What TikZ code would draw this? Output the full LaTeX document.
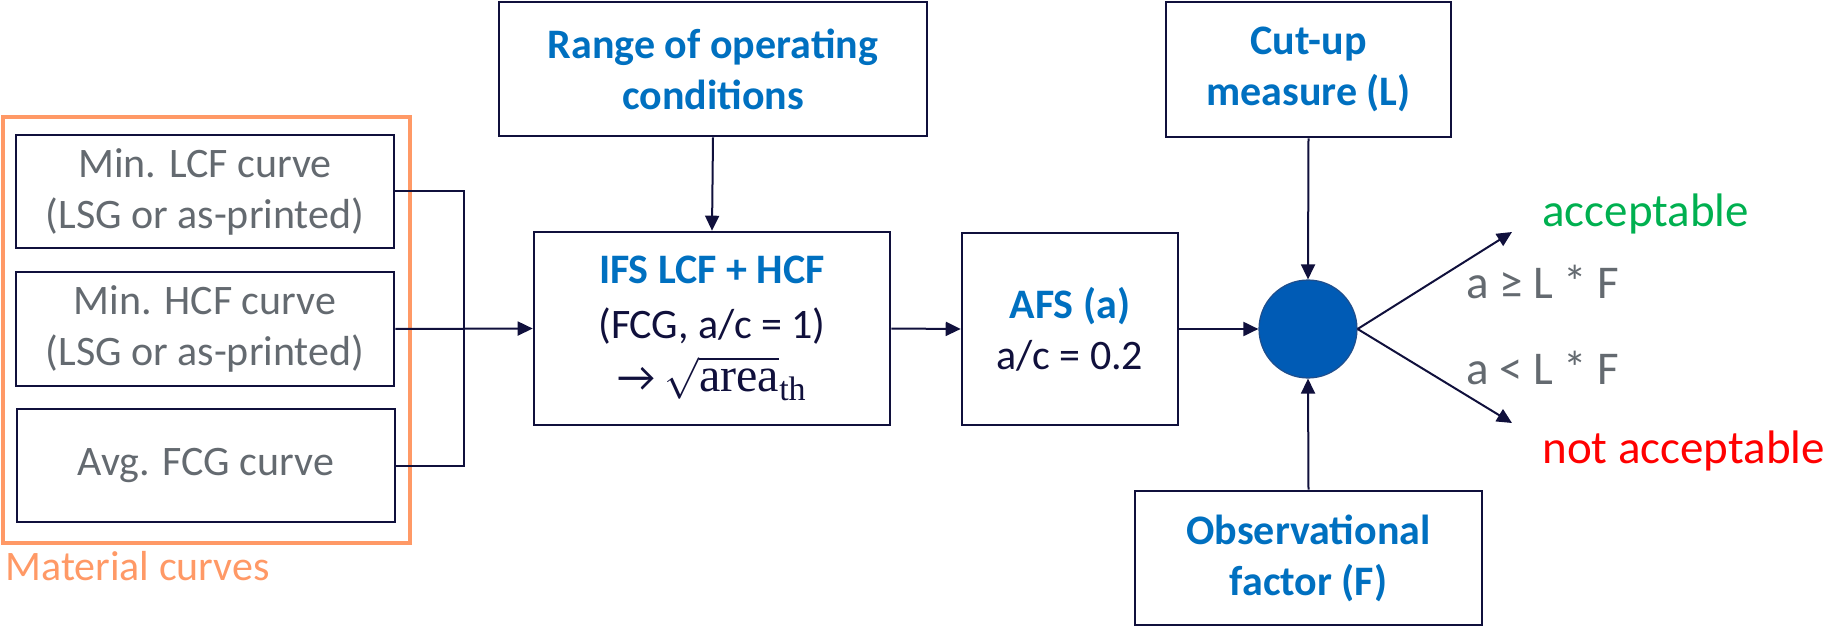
\documentclass[tikz,border=0pt]{standalone}
\usepackage{fontspec}
\setmainfont{Carlito}
\newfontfamily\serifmath{Liberation Serif}
\usetikzlibrary{arrows.meta}
\definecolor{navy}{HTML}{10103C}
\definecolor{txtgray}{HTML}{646A70}
\definecolor{bblue}{HTML}{0070C0}
\definecolor{aorange}{HTML}{FF9966}
\definecolor{agreen}{HTML}{00B050}
\definecolor{ared}{HTML}{FF0000}
\definecolor{cfill}{HTML}{005BB5}
\definecolor{cline}{HTML}{1F4E8C}
\begin{document}
\begin{tikzpicture}[x=0.5pt,y=-0.5pt,
  box/.style={draw=navy, line width=1.3pt, inner sep=0pt, align=center,
    font=\fontsize{21}{25.5}\selectfont},
  gbox/.style={box, text=txtgray},
  conn/.style={draw=navy, line width=1pt},
  arr/.style={conn, -{Triangle[length=7.5pt,width=7pt]}},
  lbl/.style={anchor=base west, inner sep=0pt, font=\fontsize{23.5}{28}\selectfont}]
\useasboundingbox (0,0) rectangle (1828,626);

% material curves group
\draw[aorange, line width=2pt] (2.5,117) rectangle (410,543);
\node[anchor=base west, inner sep=0pt, text=aorange, font=\fontsize{21}{25.5}\selectfont] (mat) at (5,580) {Material curves};

\node[gbox, minimum width=189pt, minimum height=56.5pt] (m1) at (205,191.5) {Min. LCF curve\\(LSG or as-printed)};
\node[gbox, minimum width=189pt, minimum height=57pt] (m2) at (205,329) {Min. HCF curve\\(LSG or as-printed)};
\node[gbox, minimum width=189pt, minimum height=56.5pt] (m3) at (206,465.5) {Avg. FCG curve};

\node[box, minimum width=214pt, minimum height=67pt] (rng) at (713,69) {\textcolor{bblue}{\bfseries Range of operating}\\\textcolor{bblue}{\bfseries conditions}};
\node[box, minimum width=178pt, minimum height=96.5pt, text=navy] (ifs) at (712,328.5)
  {\textcolor{bblue}{\bfseries IFS LCF + HCF}\\[2pt](FCG, a/c = 1)\\[1pt]
   → $\sqrt{\mbox{\serifmath\fontsize{24}{28}\selectfont area}}_{\mbox{\serifmath\fontsize{17}{20}\selectfont th}}$};
\node[box, minimum width=108pt, minimum height=96pt, text=navy] (afs) at (1070,329)
  {\textcolor{bblue}{\bfseries AFS (a)}\\a/c = 0.2};
\node[box, minimum width=142.5pt, minimum height=67.5pt] (cut) at (1308.5,69.5)
  {\textcolor{bblue}{\bfseries Cut-up}\\\textcolor{bblue}{\bfseries measure (L)}};
\node[box, minimum width=173.5pt, minimum height=67pt] (obs) at (1308.5,558)
  {\textcolor{bblue}{\bfseries Observational}\\\textcolor{bblue}{\bfseries factor (F)}};

\node[circle, fill=cfill, draw=cline, line width=0.6pt, minimum size=49pt, inner sep=0pt] (c) at (1308,329) {};

\coordinate (acc) at (1512,232);
\coordinate (nacc) at (1512,423);

% connectors
\draw[conn] (m1.east) -- (464,191.5) |- (m3.east);
\draw[arr] (m2.east) -- (ifs.west);
\draw[arr] (rng.south) -- (ifs.north);
\draw[arr] (ifs.east) -- (afs.west);
\draw[arr] (afs.east) -- (c.west);
\draw[arr] (cut.south) -- (c.north);
\draw[arr] (obs.north) -- (c.south);
\draw[arr] (c.east) -- (acc);
\draw[arr] (c.east) -- (nacc);

% outcome labels
\node[lbl, text=agreen] (lacc) at (1542,227) {acceptable};
\node[lbl, text=txtgray] (lge) at (1466,299) {a ≥ L * F};
\node[lbl, text=txtgray] (llt) at (1466,384) {a < L * F};
\node[lbl, text=ared] (lnacc) at (1542,463) {not acceptable};
\end{tikzpicture}
\end{document}
